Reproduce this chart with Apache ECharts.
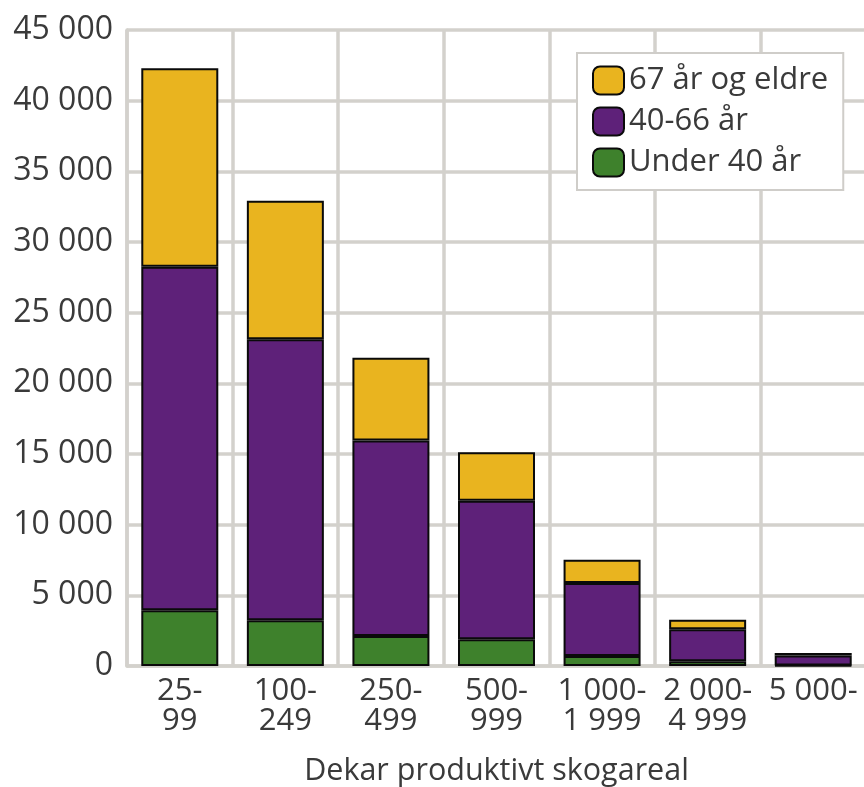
<!DOCTYPE html>
<html>
<head>
<meta charset="utf-8">
<script src="https://cdn.jsdelivr.net/npm/echarts@6/dist/echarts.min.js"></script>
<style>
  html, body { margin: 0; padding: 0; background: #ffffff; }
  #chart { width: 864px; height: 787px; }
</style>
</head>
<body>
<div id="chart"></div>
<script>
// Forest owners by productive forest area (dekar) and age group
const categories = ['25-\n99', '100-\n249', '250-\n499', '500-\n999', '1 000-\n1 999', '2 000-\n4 999', '5 000-'];
const under40 = [3950, 3240, 2130, 1890, 710, 330, 40];
const age40to66 = [24300, 19880, 13830, 9810, 5160, 2270, 700];
const age67plus = [14050, 9800, 5850, 3420, 1650, 680, 180];
const seriesNames = ['Under 40 år', '40-66 år', '67 år og eldre'];
const axisTitle = 'Dekar produktivt skogareal';

const FONT = 'Open Sans';
const TEXT = '#3a3a3a';
const GRID = '#d3d1cc';
const colors = ['#3e812c', '#5e2179', '#e9b41f'];

function fmt(v) {
  return String(v).replace(/\B(?=(\d{3})+(?!\d))/g, ' ');
}

function barSeries(name, data, color) {
  return {
    name: name,
    type: 'bar',
    stack: 'total',
    data: data,
    barWidth: 77,
    itemStyle: { color: color, borderColor: '#0a0a0a', borderWidth: 2 },
    emphasis: { disabled: true }
  };
}

const chart = echarts.init(document.getElementById('chart'), null, { renderer: 'canvas' });
chart.setOption({
  animation: false,
  backgroundColor: '#ffffff',
  textStyle: { fontFamily: FONT },
  grid: { left: 127, top: 30, bottom: 121, width: 739, containLabel: false, outerBoundsMode: 'none' },
  legend: {
    data: [seriesNames[2], seriesNames[1], seriesNames[0]],
    orient: 'vertical',
    left: 577,
    top: 53,
    padding: [12, 15, 12, 15],
    itemWidth: 31,
    itemHeight: 28,
    itemGap: 10,
    backgroundColor: '#ffffff',
    borderColor: '#cfcdc9',
    borderWidth: 2,
    borderRadius: 0,
    textStyle: { fontFamily: FONT, fontSize: 31, color: TEXT }
  },
  xAxis: {
    type: 'category',
    data: categories,
    name: axisTitle,
    nameLocation: 'middle',
    nameGap: 90,
    nameTextStyle: { fontFamily: FONT, fontSize: 30.5, color: TEXT },
    axisLine: { show: true, lineStyle: { color: GRID, width: 3.5 } },
    axisTick: { show: false },
    axisLabel: { fontFamily: FONT, fontSize: 31, color: TEXT, lineHeight: 30, margin: 10, interval: 0 },
    splitLine: { show: true, lineStyle: { color: GRID, width: 3.5 } }
  },
  yAxis: {
    type: 'value',
    min: 0,
    max: 45000,
    interval: 5000,
    axisLine: { show: true, lineStyle: { color: GRID, width: 3.5 } },
    axisTick: { show: false },
    axisLabel: { fontFamily: FONT, fontSize: 32, color: TEXT, margin: 14, formatter: fmt },
    splitLine: { show: true, lineStyle: { color: GRID, width: 3.5 } }
  },
  series: [
    barSeries(seriesNames[0], under40, colors[0]),
    barSeries(seriesNames[1], age40to66, colors[1]),
    barSeries(seriesNames[2], age67plus, colors[2])
  ]
});
</script>
</body>
</html>
